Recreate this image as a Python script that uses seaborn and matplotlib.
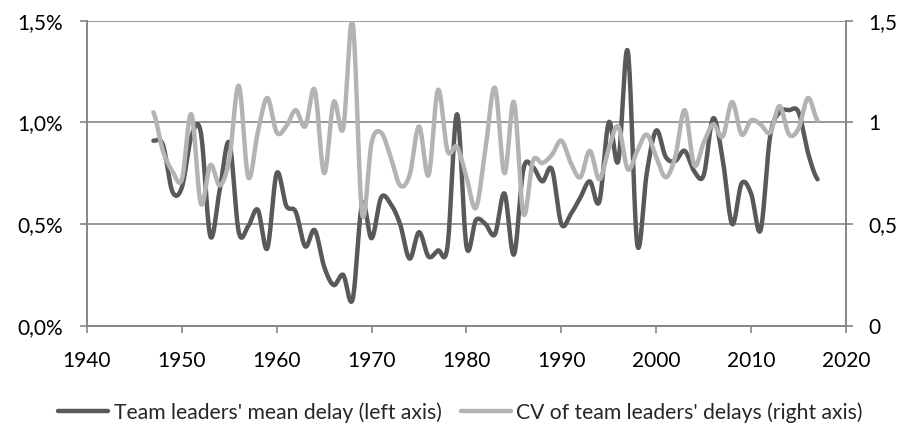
import numpy as np
import pandas as pd
import matplotlib
matplotlib.use("Agg")
import matplotlib.pyplot as plt
from matplotlib.ticker import FuncFormatter, MultipleLocator
import seaborn as sns

# yearly values
years = list(range(1947, 2018))
mean_delay = [0.91, 0.89, 0.66, 0.68, 0.93, 0.95, 0.44, 0.67, 0.90, 0.46,   # 1947-1956
              0.49, 0.57, 0.38, 0.75, 0.59, 0.56, 0.39, 0.47, 0.29, 0.20,   # 1957-1966
              0.25, 0.13, 0.60, 0.43, 0.63, 0.60, 0.50, 0.33, 0.46, 0.34,   # 1967-1976
              0.37, 0.39, 1.04, 0.39, 0.52, 0.50, 0.45, 0.65, 0.35, 0.77,   # 1977-1986
              0.78, 0.71, 0.77, 0.50, 0.55, 0.63, 0.71, 0.61, 1.00, 0.81,   # 1987-1996
              1.35, 0.40, 0.75, 0.96, 0.83, 0.81, 0.86, 0.76, 0.74, 1.02,   # 1997-2006
              0.82, 0.50, 0.70, 0.65, 0.47, 0.93, 1.05, 1.06, 1.05, 0.85,   # 2007-2016
              0.72]                                                         # 2017
cv_delay = [1.05, 0.86, 0.76, 0.72, 1.04, 0.60, 0.79, 0.69, 0.82, 1.18,
            0.73, 0.95, 1.12, 0.95, 0.98, 1.06, 0.98, 1.16, 0.75, 1.10,
            0.97, 1.49, 0.55, 0.90, 0.95, 0.83, 0.69, 0.74, 0.98, 0.74,
            1.16, 0.86, 0.88, 0.73, 0.58, 0.87, 1.17, 0.75, 1.10, 0.55,
            0.81, 0.80, 0.84, 0.91, 0.80, 0.73, 0.86, 0.72, 0.87, 0.98,
            0.77, 0.86, 0.94, 0.83, 0.73, 0.83, 1.06, 0.79, 0.90, 0.99,
            0.93, 1.10, 0.94, 1.01, 0.99, 0.95, 1.08, 0.94, 0.97, 1.12,
            1.01]
label_mean = "Team leaders' mean delay (left axis)"
label_cv = "CV of team leaders' delays (right axis)"

df = pd.DataFrame({"year": years, "mean": mean_delay, "cv": cv_delay})


def smooth(x, y, n=20):
    # catmull-rom curve, like excel's "smoothed line"
    x = np.asarray(x, float)
    y = np.asarray(y, float)
    px = np.concatenate([[2 * x[0] - x[1]], x, [2 * x[-1] - x[-2]]])
    py = np.concatenate([[y[0]], y, [y[-1]]])
    t = np.linspace(0, 1, n, endpoint=False)
    xs, ys = [], []
    for i in range(1, len(px) - 2):
        for p, out in ((px, xs), (py, ys)):
            p0, p1, p2, p3 = p[i - 1], p[i], p[i + 1], p[i + 2]
            out.append(0.5 * (2 * p1 + (-p0 + p2) * t
                              + (2 * p0 - 5 * p1 + 4 * p2 - p3) * t ** 2
                              + (-p0 + 3 * p1 - 3 * p2 + p3) * t ** 3))
    xs.append([x[-1]])
    ys.append([y[-1]])
    return np.concatenate(xs), np.concatenate(ys)


sns.set_style("white")
plt.rcParams['font.family'] = ['Lato', 'DejaVu Sans']
grey = '#868686'

fig = plt.figure(figsize=(9.08, 4.24), dpi=100)
ax = fig.add_axes([0.0958, 0.2318, 0.8359, 0.7194])
ax2 = ax.twinx()   # secondary series sits on top, as in the original

sx, sy = smooth(df["year"], df["mean"])
sns.lineplot(x=sx, y=sy, ax=ax, color='#595959', linewidth=3.2, sort=False,
             label=label_mean, legend=False)
sx, sy = smooth(df["year"], df["cv"])
sns.lineplot(x=sx, y=sy, ax=ax2, color='#b3b3b3', linewidth=3.2, sort=False,
             label=label_cv, legend=False)

ax.set_xlim(1940, 2020)
ax.xaxis.set_major_locator(MultipleLocator(10))
for a in (ax, ax2):
    a.set_ylim(0, 1.5)
    a.yaxis.set_major_locator(MultipleLocator(0.5))
    a.set_xlabel('')
    a.set_ylabel('')
    for s in a.spines.values():
        s.set_color(grey)
        s.set_linewidth(1.2)
    a.spines['top'].set_visible(False)
ax.yaxis.grid(True, color=grey, linewidth=1.2)
ax.xaxis.grid(False)
ax2.grid(False)

ax.yaxis.set_major_formatter(FuncFormatter(lambda v, p: f"{v:.1f}%".replace('.', ',')))
ax2.yaxis.set_major_formatter(FuncFormatter(
    lambda v, p: (f"{v:g}").replace('.', ',')))

ax.tick_params(axis='both', direction='out', length=5, width=1.2, color=grey,
               labelsize=15, labelcolor='black')
ax.tick_params(axis='x', pad=13, bottom=True)
ax.tick_params(axis='y', pad=12, left=True)
ax2.tick_params(axis='y', direction='out', length=5, width=1.2, color=grey,
                labelsize=15, labelcolor='black', pad=11, right=True)

h1, l1 = ax.get_legend_handles_labels()
h2, l2 = ax2.get_legend_handles_labels()
fig.legend(h1 + h2, l1 + l2, loc='center', bbox_to_anchor=(0.507, 0.027),
           ncol=2, frameon=False, fontsize=15.2, handlelength=2.4,
           handletextpad=0.25, columnspacing=0.9)

fig.savefig('out.png', dpi=100)
